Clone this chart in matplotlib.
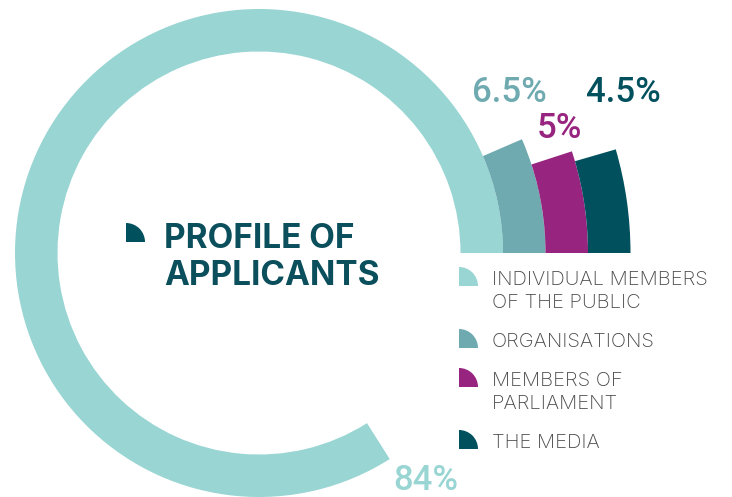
"""
Profile of applicants: nested radial ring chart with legend.
"""

import matplotlib.pyplot as plt
from matplotlib.patches import Wedge

# ---------------------------------------------------------------------------
# Data
# ---------------------------------------------------------------------------
categories = [
    "INDIVIDUAL MEMBERS\nOF THE PUBLIC",
    "ORGANISATIONS",
    "MEMBERS OF\nPARLIAMENT",
    "THE MEDIA",
]
shares = [84, 6.5, 5, 4.5]
share_labels = ["84%", "6.5%", "5%", "4.5%"]
colors = ["#98d5d3", "#6faab1", "#97247e", "#01505e"]

title = "PROFILE OF\nAPPLICANTS"

W, H = 732, 497
TEXT_GRAY = "#4a4a4a"
TITLE_COLOR = "#0b4f5c"

# ring geometry (pixels)
CX, CY = 259, H - 253
R0, BAND = 244, 42.5

# label anchor points (pixel coords, y from top) -- centre / baseline
label_pos = [(426, 490), (509, 102), (559, 138), (623, 102)]


def py(y):
    """pixel row from top -> data y"""
    return H - y


fig = plt.figure(figsize=(W / 100, H / 100), dpi=100)
ax = fig.add_axes([0, 0, 1, 1])
ax.set_xlim(0, W)
ax.set_ylim(0, H)
ax.set_aspect("equal")
ax.axis("off")

# Rings: first share is the big ring, the rest stacked outward
for i, (val, col) in enumerate(zip(shares, colors)):
    r_out = R0 + i * BAND
    ax.add_patch(Wedge((CX, CY), r_out, 0, val * 3.6, width=BAND,
                       facecolor=col, edgecolor="none", zorder=2))

# Percentage labels
for (lx, ly), txt, col in zip(label_pos, share_labels, colors):
    ax.text(lx, py(ly), txt, ha="center", va="baseline",
            fontsize=25, fontweight="medium", color=col,
            family=["Roboto", "DejaVu Sans"], zorder=3)

# Title with quarter-circle icon
ax.add_patch(Wedge((126, py(242)), 19, 0, 90, facecolor=colors[3],
                   edgecolor="none"))
for k, line in enumerate(title.split("\n")):
    ax.text(164, py(248 + k * 37), line, ha="left", va="baseline",
            fontsize=24, fontweight="bold", color=TITLE_COLOR,
            family=["Inter", "DejaVu Sans"])

# Legend
baseline = 285
for cat, col in zip(categories, colors):
    ax.add_patch(Wedge((459, py(baseline + 1)), 19, 0, 90,
                       facecolor=col, edgecolor="none"))
    lines = cat.split("\n")
    for k, line in enumerate(lines):
        ax.text(492, py(baseline + k * 23), line, ha="left", va="baseline",
                fontsize=14.5, fontweight="light", color=TEXT_GRAY,
                family=["Inter", "DejaVu Sans"])
    baseline += (len(lines) - 1) * 23 + 39

fig.savefig("out.png", dpi=100, facecolor="white")
